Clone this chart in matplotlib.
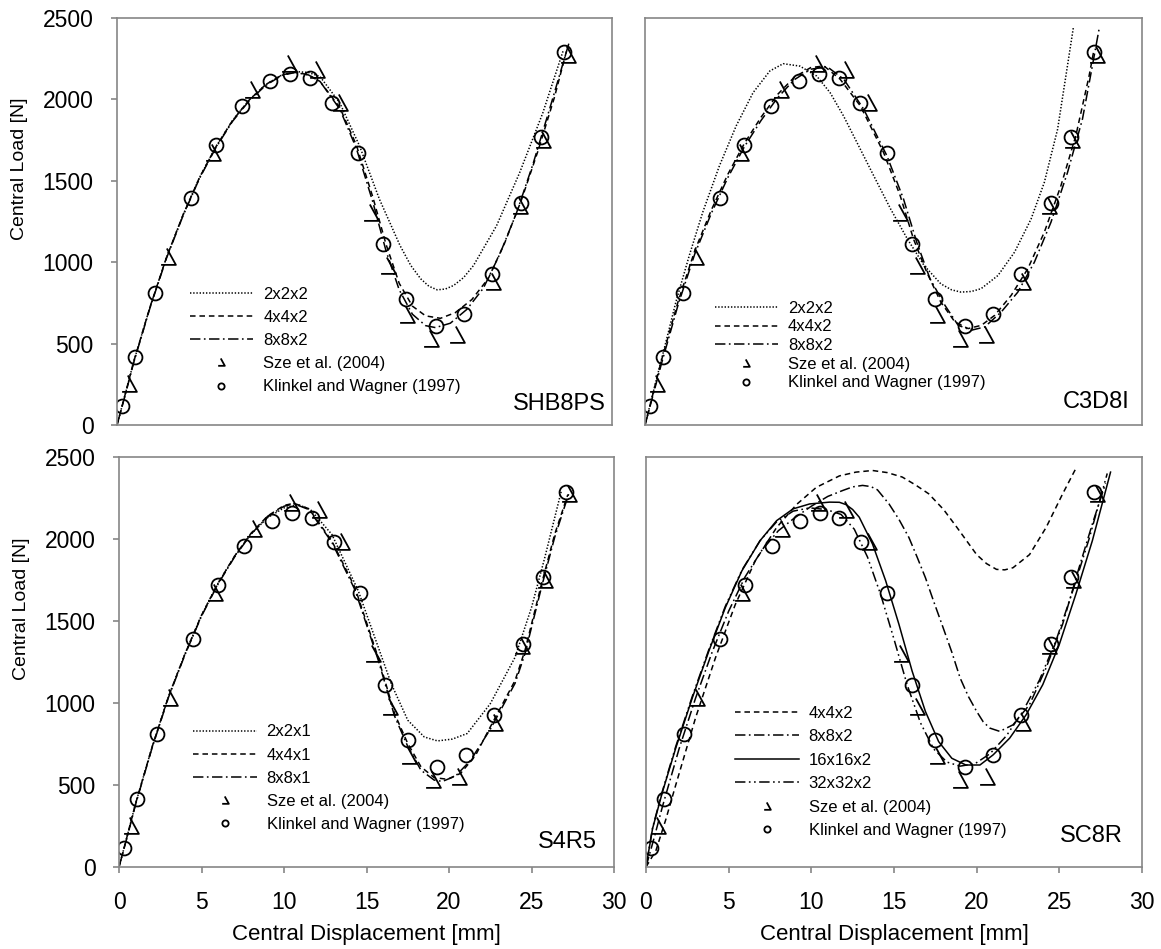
import numpy as np
import matplotlib
matplotlib.use("Agg")
import matplotlib.pyplot as plt
from matplotlib.path import Path

plt.rcParams['font.family'] = ['Liberation Sans', 'DejaVu Sans']
plt.rcParams['lines.scale_dashes'] = False

# reference data (same in every panel)
klinkel_x = [0.3, 1.1, 2.3, 4.5, 6.0, 7.6, 9.3, 10.5, 11.7, 13.0, 14.6, 16.1, 17.5, 19.3, 21.0, 22.7, 24.5, 25.7, 27.1]
klinkel_y = [115, 415, 810, 1393, 1718, 1960, 2112, 2158, 2130, 1980, 1672, 1112, 776, 607, 684, 928, 1362, 1770, 2288]
sze_x = [0.7, 3.1, 5.8, 8.2, 10.4, 12.1, 13.5, 15.4, 16.4, 17.6, 19.0, 20.6, 22.8, 24.4, 25.8, 27.3]
sze_y = [250, 1030, 1670, 2060, 2220, 2180, 1980, 1300, 975, 675, 530, 550, 880, 1345, 1752, 2272]

# SHB8PS
shb_222_x = [0, 0.5, 1, 2, 3, 4, 5, 6, 7, 8, 9, 10, 10.9, 11.6, 12.3, 13.5, 14.7, 15.9, 17.15, 17.8, 18.4, 18.9, 19.4, 19.9, 20.4, 21.0, 21.6, 23.0, 24.4, 25.8, 27.05]
shb_222_y = [0, 190, 385, 725, 1030, 1290, 1520, 1710, 1870, 1995, 2090, 2150, 2170, 2165, 2140, 1978, 1713, 1387, 1102, 980, 898, 852, 830, 835, 857, 905, 979, 1224, 1550, 1916, 2303]
shb_442_x = [0, 0.5, 1, 2, 3, 4, 5, 6, 7, 8, 9, 10, 10.8, 11.6, 12.3, 13.5, 14.5, 15.5, 16.3, 17.1, 17.9, 18.7, 19.6, 20.5, 21.5, 22.5, 23.5, 24.5, 25.5, 26.5, 27.3]
shb_442_y = [0, 190, 385, 725, 1030, 1290, 1520, 1710, 1870, 1995, 2090, 2150, 2168, 2150, 2110, 1950, 1720, 1400, 1110, 870, 730, 670, 655, 690, 770, 900, 1120, 1380, 1680, 2010, 2320]
shb_882_x = [0, 0.5, 1, 2, 3, 4, 5, 6, 7, 8, 9, 10, 10.8, 11.6, 12.3, 13.5, 14.5, 15.5, 16.3, 17.1, 17.9, 18.7, 19.3, 20.2, 21.2, 22.2, 23.2, 24.2, 25.2, 26.3, 27.4]
shb_882_y = [0, 185, 380, 720, 1025, 1285, 1515, 1705, 1865, 1990, 2085, 2148, 2165, 2150, 2110, 1940, 1700, 1370, 1070, 830, 680, 610, 598, 625, 710, 840, 1050, 1300, 1600, 1970, 2350]

# C3D8I
c3_222_x = [0, 0.65, 1.26, 1.86, 2.67, 3.48, 4.49, 5.5, 6.52, 7.53, 8.34, 9.35, 10.36, 11.17, 11.98, 12.79, 13.8, 14.82, 15.83, 16.84, 17.85, 18.5, 19.07, 19.7, 20.28, 21.3, 22.3, 23.3, 24.1, 24.9, 25.4, 25.85]
c3_222_y = [0, 265, 510, 755, 1041, 1306, 1592, 1837, 2041, 2174, 2219, 2204, 2143, 2041, 1898, 1735, 1531, 1327, 1143, 980, 867, 830, 816, 820, 837, 918, 1061, 1265, 1490, 1816, 2143, 2439]
c3_442_x = [0, 1, 2, 3, 4, 5, 6, 7, 8, 9, 10, 10.8, 11.78, 13.0, 14.4, 15.4, 16.2, 17.0, 17.85, 18.7, 19.5, 20.3, 21.1, 22.1, 23.1, 24.1, 25.1, 26.0, 26.8, 27.1]
c3_442_y = [0, 400, 760, 1070, 1320, 1540, 1730, 1890, 2030, 2135, 2195, 2205, 2123, 1959, 1673, 1408, 1143, 939, 755, 633, 592, 612, 673, 796, 959, 1184, 1469, 1776, 2143, 2306]
c3_882_x = [0, 1, 2, 3, 4, 5, 6, 7, 8, 9, 10, 11.0, 12.0, 13.2, 14.6, 15.6, 16.4, 17.2, 18.1, 18.9, 19.7, 20.5, 21.5, 22.5, 23.5, 24.5, 25.5, 26.4, 26.96, 27.4]
c3_882_y = [0, 380, 740, 1050, 1300, 1520, 1710, 1870, 2010, 2120, 2185, 2200, 2123, 1939, 1653, 1388, 1122, 898, 735, 612, 582, 602, 694, 816, 1000, 1245, 1551, 1878, 2184, 2429]

# S4R5
s4_221_x = [0, 0.5, 1, 2, 3, 4, 5, 6, 7, 8, 9, 10, 10.85, 11.6, 12.9, 14.5, 15.5, 16.5, 17.5, 18.5, 19.3, 20.2, 21.1, 22.5, 24.0, 25.0, 25.8, 26.8]
s4_221_y = [0, 190, 385, 730, 1040, 1300, 1535, 1730, 1895, 2030, 2130, 2190, 2210, 2180, 2028, 1684, 1400, 1117, 895, 793, 769, 780, 814, 996, 1279, 1583, 1886, 2291]
s4_441_x = [0, 0.5, 1, 2, 3, 4, 5, 6, 7, 8, 9, 10, 10.6, 11.5, 12.9, 14.3, 15.7, 16.7, 17.5, 18.3, 19.1, 19.9, 20.7, 21.6, 22.5, 24.0, 24.6, 25.6, 26.4, 27.2]
s4_441_y = [0, 190, 385, 730, 1040, 1300, 1535, 1730, 1895, 2035, 2140, 2205, 2218, 2185, 1988, 1704, 1279, 935, 753, 611, 545, 535, 571, 680, 854, 1137, 1320, 1724, 2028, 2271]
s4_881_x = [0, 0.5, 1, 2, 3, 4, 5, 6, 7, 8, 9, 10, 10.6, 11.5, 12.9, 14.3, 15.7, 16.7, 17.5, 18.3, 19.1, 19.6, 20.4, 21.3, 22.5, 24.0, 24.6, 25.6, 26.4, 27.3]
s4_881_y = [0, 185, 380, 725, 1035, 1295, 1530, 1725, 1890, 2030, 2135, 2200, 2215, 2180, 1980, 1690, 1265, 920, 735, 590, 530, 522, 555, 650, 840, 1120, 1300, 1705, 2010, 2290]

# SC8R
sc_442_x = [0, 0.6, 1.2, 1.8, 3.0, 4.2, 5.4, 6.6, 7.9, 9.1, 10.3, 11.7, 12.7, 13.7, 14.6, 15.5, 16.3, 17.1, 18.0, 18.8, 20.0, 20.6, 21.2, 21.7, 22.2, 23.2, 24.2, 25.2, 26.0]
sc_442_y = [0, 100, 290, 500, 910, 1275, 1600, 1865, 2070, 2210, 2315, 2385, 2408, 2418, 2405, 2378, 2330, 2276, 2180, 2072, 1905, 1850, 1815, 1812, 1825, 1905, 2070, 2275, 2430]
sc_882_x = [0, 0.5, 1, 2, 3, 4, 5, 6, 7, 8, 9, 10, 11, 11.9, 12.5, 13.1, 13.6, 14.0, 14.7, 15.3, 15.9, 16.4, 16.9, 17.4, 17.9, 18.5, 19.0, 19.5, 20.0, 20.4, 20.8, 21.4, 22.2, 23.2, 24.2, 25.2, 26.2, 27.0, 27.8]
sc_882_y = [0, 180, 370, 720, 1030, 1310, 1560, 1770, 1930, 2050, 2130, 2200, 2260, 2296, 2318, 2327, 2320, 2300, 2214, 2120, 2010, 1890, 1765, 1620, 1480, 1310, 1153, 1040, 949, 885, 847, 827, 867, 990, 1214, 1480, 1827, 2092, 2340]
sc_16_x = [0, 0.4, 1.0, 1.8, 2.8, 3.8, 4.8, 5.8, 6.9, 7.9, 8.9, 9.9, 11.1, 11.7, 12.1, 12.5, 12.9, 13.7, 14.5, 15.3, 16.1, 16.9, 17.7, 18.5, 19.35, 20.2, 21.0, 22.0, 23.0, 24.0, 25.0, 26.0, 27.0, 28.1]
sc_16_y = [0, 235, 459, 725, 1031, 1316, 1582, 1806, 1990, 2112, 2184, 2214, 2225, 2224, 2210, 2180, 2133, 1970, 1745, 1480, 1194, 949, 765, 663, 622, 622, 684, 786, 929, 1112, 1357, 1663, 1990, 2408]
sc_32_x = [0, 0.4, 1.0, 1.8, 2.8, 3.8, 4.8, 5.8, 6.9, 7.9, 8.9, 9.9, 10.9, 11.8, 12.6, 13.4, 14.2, 15.0, 15.8, 16.6, 17.4, 18.2, 19.0, 19.9, 20.8, 21.8, 22.8, 23.8, 24.8, 25.8, 26.8, 27.9]
sc_32_y = [0, 240, 465, 735, 1040, 1325, 1590, 1810, 1990, 2105, 2170, 2190, 2180, 2150, 2060, 1890, 1660, 1390, 1110, 880, 720, 640, 615, 630, 690, 800, 950, 1140, 1380, 1680, 2000, 2400]

# line styles
DOT = (0, (1.0, 1.3))
DASH = (0, (4.0, 2.8))
DASHDOT = (0, (7.5, 2.5, 1.2, 2.5))
DASHDOTDOT = (0, (7.5, 2.5, 1.2, 2.5, 1.2, 2.5))
SOLID = '-'

sze_marker = Path([(-0.1, 0.55), (0.45, -0.45), (-0.45, -0.45)],
                  [Path.MOVETO, Path.LINETO, Path.LINETO])

panels = [
    dict(rect=[0.1008, 0.5522, 0.4264, 0.4289], name="SHB8PS",
         curves=[(shb_222_x, shb_222_y, DOT, "2x2x2"),
                 (shb_442_x, shb_442_y, DASH, "4x4x2"),
                 (shb_882_x, shb_882_y, DASHDOT, "8x8x2")],
         leg=(0.147, 0.075), lsp=0.49, lab=(0.988, 0.025), left=True, bottom=False),
    dict(rect=[0.5556, 0.5522, 0.4281, 0.4289], name="C3D8I",
         curves=[(c3_222_x, c3_222_y, DOT, "2x2x2"),
                 (c3_442_x, c3_442_y, DASH, "4x4x2"),
                 (c3_882_x, c3_882_y, DASHDOT, "8x8x2")],
         leg=(0.14, 0.085), lsp=0.22, lab=(0.975, 0.03), left=False, bottom=False),
    dict(rect=[0.1025, 0.0864, 0.4264, 0.4320], name="S4R5",
         curves=[(s4_221_x, s4_221_y, DOT, "2x2x1"),
                 (s4_441_x, s4_441_y, DASH, "4x4x1"),
                 (s4_881_x, s4_881_y, DASHDOT, "8x8x1")],
         leg=(0.15, 0.085), lsp=0.49, lab=(0.965, 0.035), left=True, bottom=True),
    dict(rect=[0.5564, 0.0864, 0.4272, 0.4320], name="SC8R",
         curves=[(sc_442_x, sc_442_y, DASH, "4x4x2"),
                 (sc_882_x, sc_882_y, DASHDOT, "8x8x2"),
                 (sc_16_x, sc_16_y, SOLID, "16x16x2"),
                 (sc_32_x, sc_32_y, DASHDOTDOT, "32x32x2")],
         leg=(0.18, 0.07), lsp=0.51, lab=(0.962, 0.05), left=False, bottom=True),
]

fig = plt.figure(figsize=(11.61, 9.49), dpi=100)
grey = '#868686'

for p in panels:
    ax = fig.add_axes(p["rect"])
    for xs, ys, ls, lab in p["curves"]:
        ax.plot(xs, ys, color='black', linestyle=ls, linewidth=1.1, label=lab)
    ax.plot(sze_x, sze_y, linestyle='none', marker=sze_marker, markersize=13,
            markerfacecolor='none', markeredgecolor='black', markeredgewidth=1.3,
            label="Sze et al. (2004)")
    ax.plot(klinkel_x, klinkel_y, linestyle='none', marker='o', markersize=10,
            markerfacecolor='none', markeredgecolor='black', markeredgewidth=1.3,
            label="Klinkel and Wagner (1997)")
    ax.set_xlim(0, 30)
    ax.set_ylim(0, 2500)
    ax.set_xticks(np.arange(0, 31, 5))
    ax.set_yticks(np.arange(0, 2501, 500))
    for s in ax.spines.values():
        s.set_color(grey)
        s.set_linewidth(1.2)
    ax.tick_params(axis='both', direction='out', length=4, width=1.2, color=grey,
                   labelsize=16.5, pad=13)
    if not p["left"]:
        ax.tick_params(axis='y', left=False, labelleft=False)
    else:
        ax.set_ylabel("Central Load [N]", fontsize=14)
        ax.yaxis.set_label_coords(-0.18, 0.63)
    if not p["bottom"]:
        ax.tick_params(axis='x', bottom=False, labelbottom=False)
    else:
        ax.set_xlabel("Central Displacement [mm]", fontsize=16)
        ax.xaxis.set_label_coords(0.5, -0.14)
    ax.legend(loc='lower left', bbox_to_anchor=p["leg"], frameon=False, fontsize=12,
              handlelength=3.8, handletextpad=0.6, labelspacing=p["lsp"],
              borderpad=0, borderaxespad=0, markerscale=0.45, numpoints=1)
    ax.text(p["lab"][0], p["lab"][1], p["name"], transform=ax.transAxes,
            ha='right', va='bottom', fontsize=17)

fig.savefig("out.png", dpi=100)
